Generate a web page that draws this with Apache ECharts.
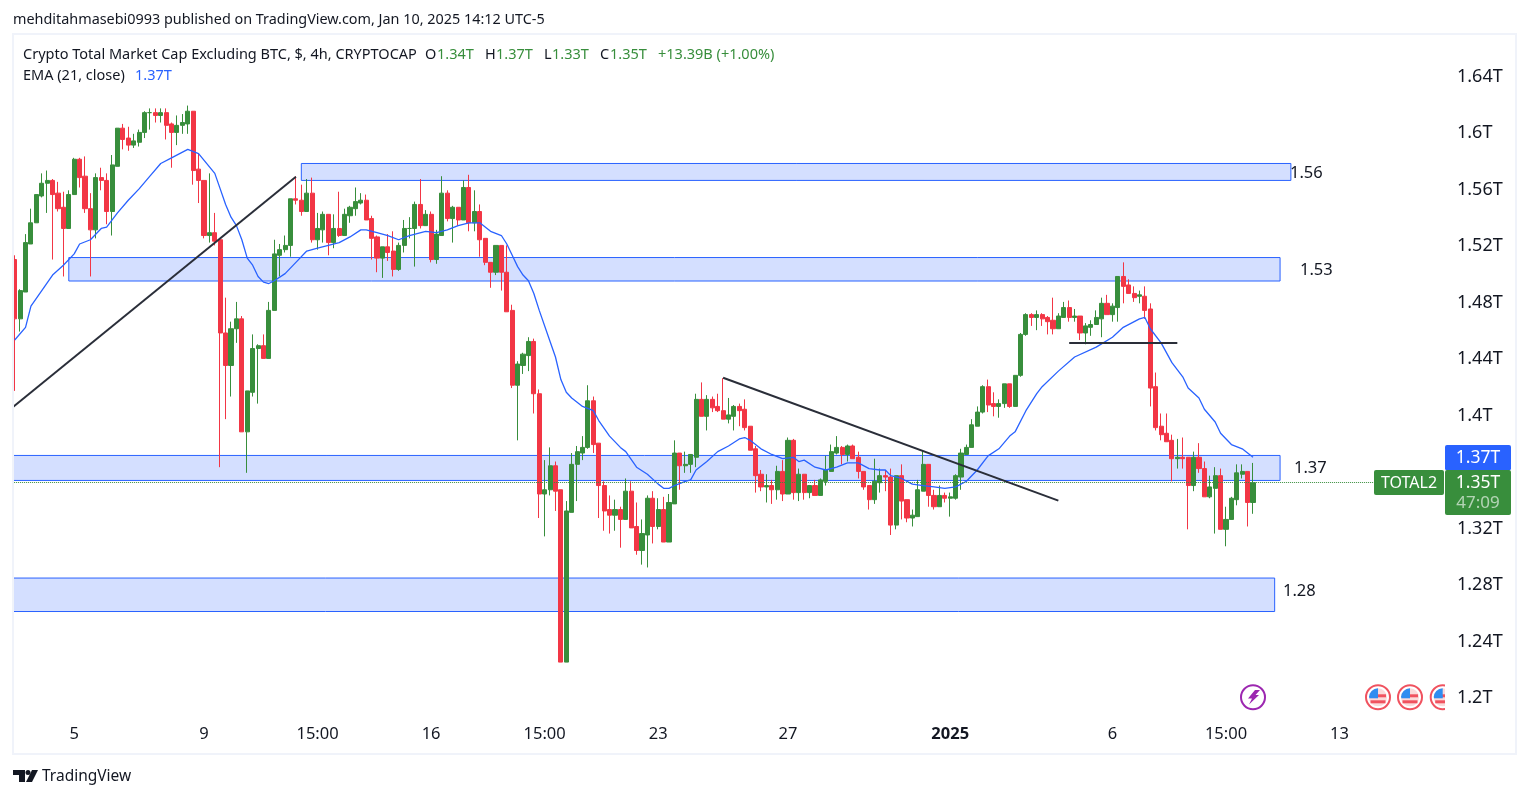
<!DOCTYPE html>
<html><head><meta charset="utf-8">
<style>html,body{margin:0;padding:0;background:#fff}#c{width:1529px;height:798px}</style>
<script src="https://cdn.jsdelivr.net/npm/echarts@6/dist/echarts.min.js"></script>
</head><body><div id="c"></div>
<script>
const opens=[1.509,1.467,1.486,1.520,1.535,1.554,1.563,1.565,1.556,1.546,
1.531,1.555,1.580,1.568,1.545,1.530,1.567,1.565,1.543,1.575,
1.602,1.595,1.590,1.592,1.599,1.613,1.613,1.611,1.613,1.605,
1.599,1.604,1.605,1.614,1.573,1.565,1.526,1.528,1.523,1.457,
1.434,1.460,1.467,1.387,1.415,1.446,1.448,1.439,1.473,1.512,
1.516,1.519,1.552,1.551,1.543,1.556,1.523,1.530,1.541,1.521,
1.531,1.526,1.540,1.545,1.549,1.551,1.538,1.525,1.510,1.518,
1.515,1.502,1.519,1.531,1.531,1.548,1.533,1.541,1.509,1.526,
1.556,1.538,1.546,1.537,1.560,1.535,1.543,1.524,1.507,1.500,
1.519,1.500,1.473,1.420,1.434,1.441,1.451,1.414,1.343,1.346,
1.363,1.346,1.224,1.330,1.364,1.372,1.376,1.409,1.379,1.349,
1.332,1.328,1.332,1.325,1.345,1.320,1.303,1.314,1.340,1.320,
1.332,1.309,1.336,1.372,1.363,1.364,1.369,1.410,1.398,1.410,
1.405,1.402,1.396,1.398,1.405,1.403,1.391,1.375,1.357,1.348,
1.349,1.346,1.359,1.343,1.381,1.344,1.357,1.344,1.349,1.342,
1.352,1.359,1.372,1.376,1.371,1.377,1.369,1.359,1.349,1.339,
1.351,1.356,1.355,1.321,1.356,1.339,1.326,1.327,1.345,1.364,
1.342,1.334,1.342,1.340,1.340,1.355,1.371,1.376,1.391,1.401,
1.419,1.407,1.405,1.407,1.421,1.405,1.427,1.456,1.470,1.468,
1.470,1.468,1.466,1.460,1.468,1.475,1.468,1.469,1.457,1.461,
1.463,1.467,1.478,1.470,1.475,1.497,1.491,1.485,1.483,1.483,
1.474,1.419,1.391,1.386,1.381,1.368,1.369,1.369,1.349,1.369,
1.361,1.341,1.347,1.356,1.318,1.325,1.339,1.357,1.359,1.337];
const closes=[1.467,1.487,1.521,1.535,1.555,1.563,1.565,1.555,1.545,1.531,
1.555,1.580,1.567,1.545,1.530,1.567,1.565,1.543,1.576,1.602,
1.594,1.590,1.593,1.599,1.613,1.613,1.611,1.613,1.604,1.599,
1.604,1.606,1.614,1.572,1.565,1.526,1.528,1.522,1.457,1.434,
1.460,1.467,1.387,1.416,1.446,1.448,1.439,1.473,1.513,1.516,
1.519,1.552,1.551,1.543,1.556,1.523,1.531,1.541,1.521,1.531,
1.526,1.541,1.546,1.550,1.551,1.537,1.524,1.510,1.518,1.514,
1.502,1.519,1.531,1.531,1.548,1.533,1.541,1.509,1.527,1.556,
1.538,1.546,1.537,1.560,1.535,1.543,1.523,1.507,1.500,1.519,
1.500,1.472,1.420,1.435,1.442,1.451,1.414,1.343,1.346,1.363,
1.345,1.224,1.331,1.364,1.373,1.376,1.409,1.378,1.349,1.331,
1.328,1.332,1.325,1.345,1.319,1.303,1.315,1.340,1.320,1.332,
1.309,1.337,1.372,1.363,1.364,1.371,1.410,1.398,1.410,1.404,
1.402,1.396,1.399,1.405,1.402,1.390,1.374,1.356,1.348,1.349,
1.346,1.359,1.343,1.381,1.344,1.357,1.344,1.349,1.342,1.353,
1.360,1.373,1.376,1.371,1.377,1.368,1.359,1.348,1.339,1.352,
1.356,1.355,1.321,1.356,1.338,1.326,1.328,1.346,1.364,1.342,
1.334,1.342,1.340,1.341,1.356,1.372,1.376,1.392,1.401,1.419,
1.406,1.405,1.407,1.421,1.405,1.427,1.456,1.470,1.468,1.470,
1.467,1.465,1.460,1.469,1.475,1.468,1.469,1.457,1.462,1.463,
1.468,1.478,1.470,1.476,1.497,1.490,1.485,1.482,1.484,1.473,
1.418,1.390,1.385,1.380,1.368,1.369,1.368,1.349,1.369,1.361,
1.341,1.348,1.356,1.318,1.325,1.340,1.358,1.359,1.337,1.351];
const lows=[1.416,1.458,1.486,1.520,1.535,1.553,1.542,1.509,1.543,1.497,
1.531,1.555,1.560,1.542,1.497,1.524,1.558,1.534,1.526,1.575,
1.587,1.586,1.588,1.589,1.595,1.601,1.606,1.606,1.594,1.574,
1.590,1.598,1.598,1.562,1.549,1.524,1.521,1.519,1.362,1.396,
1.412,1.450,1.387,1.358,1.412,1.407,1.439,1.439,1.473,1.497,
1.514,1.511,1.548,1.540,1.543,1.521,1.516,1.521,1.512,1.517,
1.525,1.526,1.535,1.540,1.548,1.537,1.509,1.500,1.496,1.508,
1.497,1.501,1.514,1.524,1.504,1.531,1.533,1.507,1.506,1.526,
1.536,1.521,1.533,1.537,1.529,1.529,1.511,1.505,1.489,1.498,
1.487,1.472,1.418,1.381,1.428,1.430,1.400,1.326,1.313,1.342,
1.331,1.224,1.224,1.330,1.338,1.367,1.375,1.372,1.326,1.317,
1.315,1.317,1.305,1.325,1.319,1.300,1.293,1.291,1.308,1.318,
1.309,1.309,1.336,1.346,1.358,1.358,1.362,1.398,1.388,1.401,
1.401,1.396,1.393,1.388,1.391,1.388,1.374,1.344,1.345,1.337,
1.336,1.339,1.338,1.343,1.339,1.338,1.339,1.340,1.342,1.342,
1.349,1.359,1.371,1.364,1.366,1.368,1.354,1.346,1.332,1.336,
1.344,1.345,1.314,1.318,1.325,1.323,1.320,1.327,1.345,1.334,
1.332,1.334,1.337,1.327,1.339,1.346,1.371,1.376,1.391,1.400,
1.401,1.398,1.397,1.404,1.404,1.405,1.426,1.455,1.462,1.459,
1.462,1.456,1.456,1.460,1.468,1.465,1.465,1.452,1.449,1.455,
1.463,1.454,1.470,1.465,1.465,1.478,1.485,1.479,1.478,1.467,
1.405,1.388,1.381,1.380,1.352,1.361,1.361,1.318,1.345,1.358,
1.341,1.340,1.315,1.318,1.306,1.325,1.335,1.354,1.320,1.329];
const highs=[1.512,1.488,1.527,1.545,1.555,1.570,1.572,1.566,1.564,1.557,
1.558,1.581,1.581,1.582,1.556,1.570,1.574,1.570,1.583,1.602,
1.605,1.603,1.598,1.601,1.614,1.616,1.616,1.616,1.616,1.606,
1.611,1.612,1.618,1.614,1.584,1.565,1.570,1.542,1.523,1.482,
1.465,1.479,1.469,1.416,1.456,1.449,1.456,1.479,1.523,1.520,
1.526,1.552,1.568,1.562,1.566,1.567,1.542,1.543,1.541,1.541,
1.557,1.545,1.547,1.560,1.556,1.555,1.540,1.526,1.518,1.527,
1.529,1.521,1.537,1.539,1.550,1.566,1.544,1.543,1.530,1.568,
1.558,1.547,1.546,1.565,1.569,1.558,1.548,1.524,1.507,1.519,
1.519,1.519,1.477,1.437,1.443,1.454,1.453,1.417,1.367,1.376,
1.366,1.346,1.338,1.372,1.377,1.384,1.420,1.412,1.379,1.352,
1.342,1.339,1.334,1.354,1.352,1.337,1.325,1.342,1.345,1.340,
1.341,1.343,1.381,1.372,1.373,1.371,1.414,1.422,1.413,1.412,
1.414,1.425,1.411,1.406,1.407,1.410,1.391,1.377,1.360,1.357,
1.353,1.363,1.367,1.383,1.382,1.361,1.357,1.349,1.353,1.354,
1.370,1.378,1.384,1.377,1.378,1.378,1.373,1.359,1.349,1.368,
1.361,1.360,1.361,1.356,1.364,1.339,1.332,1.353,1.374,1.364,
1.346,1.349,1.344,1.344,1.357,1.375,1.378,1.396,1.405,1.420,
1.424,1.415,1.410,1.421,1.421,1.427,1.457,1.471,1.471,1.473,
1.471,1.469,1.482,1.471,1.479,1.480,1.474,1.469,1.464,1.466,
1.473,1.482,1.484,1.478,1.497,1.507,1.495,1.490,1.487,1.490,
1.478,1.429,1.400,1.400,1.385,1.382,1.383,1.369,1.373,1.379,
1.366,1.356,1.362,1.361,1.334,1.341,1.364,1.364,1.359,1.365];
// EMA(21) at these candle numbers
const emaCandle=[0,2,3,5,7,9,11,12,14,16,17,19,21,23,25,27,29,32,34,37,38,39,40,41,42,43,44,45,46,47,48,50,52,54,56,
58,60,62,64,65,67,69,71,73,76,78,80,82,84,86,88,90,91,92,93,94,95,96,97,99,100,101,102,103,105,
107,108,110,112,113,115,117,119,120,121,122,124,125,126,128,130,132,134,135,136,138,140,142,144,145,
146,148,150,152,154,156,158,160,161,162,164,166,168,170,172,174,176,178,180,182,184,185,
187,189,190,193,196,200,203,205,208,209,210,212,214,216,217,219,220,222,223,225,227,229];
const emaValue=[1.452,1.461,1.476,1.487,1.498,1.505,1.513,1.520,1.523,1.531,1.532,1.542,1.551,1.559,1.568,1.577,1.581,1.587,1.584,1.570,1.559,1.548,1.539,1.533,1.523,1.510,1.505,1.497,1.493,1.492,1.494,1.499,1.507,1.515,1.517,
1.519,1.521,1.525,1.530,1.530,1.528,1.526,1.523,1.526,1.529,1.528,1.530,1.533,1.535,1.535,1.529,1.526,1.520,1.512,1.504,1.498,1.494,1.485,1.473,1.451,1.440,1.424,1.415,1.411,1.405,
1.402,1.395,1.384,1.376,1.373,1.362,1.357,1.350,1.347,1.347,1.349,1.352,1.353,1.360,1.366,1.373,1.377,1.382,1.383,1.381,1.375,1.371,1.368,1.369,1.366,
1.367,1.362,1.360,1.362,1.365,1.365,1.361,1.360,1.360,1.356,1.354,1.350,1.349,1.348,1.347,1.348,1.352,1.360,1.370,1.375,1.384,1.387,
1.402,1.414,1.419,1.430,1.440,1.447,1.454,1.461,1.467,1.468,1.460,1.450,1.436,1.426,1.418,1.411,1.403,1.394,1.386,1.378,1.375,1.369];
const xTickCandle=[11,35,56,77,98,119,143,173,203,224,245];
const xTickLabel=["5","9","15:00","16","15:00","23","27","2025","6","15:00","13"];
const yTicks=[1.2,1.24,1.28,1.32,1.4,1.44,1.48,1.52,1.56,1.6,1.64];
const zoneNames=["1.56","1.53","1.37","1.28"];
const zoneFrom=[53,10,-1,-1];
const zoneTo=[236,234,234,233];
const zoneTop=[1.577,1.5104,1.3703,1.2835];
const zoneBottom=[1.565,1.4938,1.3526,1.2598];
const lineFrom=[[-1,1.4025],[131,1.4253],[195,1.4504]];
const lineTo=[[52,1.5676],[193,1.3383],[215,1.4504]];
const lastPrice=closes[closes.length-1];

const PAD=2, TOTAL=267;
const FONT='"Noto Sans",sans-serif';
const INK='#131722', UP='#388e3c', DOWN='#f23645', BLUE='#2962ff';
const cats=[];
for(let i=0;i<TOTAL;i++){
  const k=xTickCandle.indexOf(i-PAD);
  const label=k>=0?xTickLabel[k]:'';
  cats.push(label==='2025'?{value:label,textStyle:{fontWeight:'bold'}}:label);
}
const candles=[],ema=[];
for(let i=0;i<TOTAL;i++){candles.push('-');ema.push(null);}
opens.forEach((o,i)=>{candles[i+PAD]=[o,closes[i],lows[i],highs[i]];});
emaCandle.forEach((c,i)=>{ema[c+PAD]=emaValue[i];});

function txt(x,y,text,o){o=o||{};return {type:'text',z:o.z||50,x:x,y:y,style:{text:text,fill:o.fill||INK,font:(o.weight||'normal')+' '+(o.size||14.5)+'px '+FONT,textAlign:o.align||'left',textVerticalAlign:'middle'}};}
function box(x,y,w,h,fill,o){o=o||{};return {type:'rect',z:o.z||40,shape:{x:x,y:y,width:w,height:h,r:o.r||0},style:{fill:fill,stroke:o.stroke||null,lineWidth:o.lw||0}};}
function flag(cx,cy){
  const r=9, parts=[];
  parts.push({type:'circle',z:45,shape:{cx:cx,cy:cy,r:12},style:{fill:'#fff',stroke:'#f0525f',lineWidth:2}});
  parts.push({type:'circle',z:46,shape:{cx:cx,cy:cy,r:r},style:{fill:'#fbdada'}});
  parts.push({type:'rect',z:47,shape:{x:cx-1,y:cy-3,width:9,height:3},style:{fill:'#f0525f'}});
  parts.push({type:'sector',z:47,shape:{cx:cx,cy:cy,r:r,startAngle:Math.PI,endAngle:Math.PI*1.5},style:{fill:'#2f8df0'}});
  parts.push({type:'rect',z:47,shape:{x:cx-8.7,y:cy-1,width:8.7,height:2},style:{fill:'#2f8df0'}});
  parts.push({type:'rect',z:47,shape:{x:cx-7.5,y:cy+3,width:15,height:3},style:{fill:'#f0525f'}});
  return parts;
}
const g=[];
g.push(box(0,0,13.5,798,'#fff',{z:30}));
g.push(box(13,34,1503,720,'rgba(0,0,0,0)',{z:31,stroke:'#f0f3fa',lw:2}));
g.push(txt(13,20,'mehditahmasebi0993 published on TradingView.com, Jan 10, 2025 14:12 UTC-5',{size:14.4}));
g.push(txt(23,55,'Crypto Total Market Cap Excluding BTC, $, 4h, CRYPTOCAP'));
[[425,'O',437,'1.34T'],[485,'H',496,'1.37T'],[544,'L',552,'1.33T'],[600,'C',610,'1.35T']].forEach(a=>{g.push(txt(a[0],55,a[1]));g.push(txt(a[2],55,a[3],{fill:UP}));});
g.push(txt(658,55,'+13.39B (+1.00%)',{fill:UP}));
g.push(txt(23,76,'EMA (21, close)'));
g.push(txt(135,76,'1.37T',{fill:BLUE}));
[[1290,173,'1.56'],[1300,270,'1.53'],[1294,468,'1.37'],[1283,591,'1.28']].forEach(a=>g.push(txt(a[0],a[1],a[2],{size:16.5})));
g.push(box(1445,445,66,25.5,BLUE,{r:2}));
g.push(txt(1478,458.5,'1.37T',{fill:'#fff',size:17.5,align:'center',z:51}));
g.push(box(1445,470,66,45,UP,{r:2}));
g.push(txt(1478,483,'1.35T',{fill:'#fff',size:17.5,align:'center',z:51}));
g.push(txt(1478,503.5,'47:09',{fill:'rgba(255,255,255,0.62)',size:17,align:'center',z:51}));
g.push(box(1374,470,70,25,UP,{r:2}));
g.push(txt(1409,483.5,'TOTAL2',{fill:'#fff',size:16,align:'center',z:51}));
g.push({type:'circle',z:45,shape:{cx:1253,cy:697.3,r:12},style:{fill:'#fff',stroke:'#9c27b0',lineWidth:2}});
g.push({type:'polygon',z:46,shape:{points:[[1255,690],[1260,690],[1255.5,695],[1259,695],[1249,704.5],[1252,698.5],[1248,698.5]]},style:{fill:'#9c27b0'}});
flag(1378,697.3).forEach(p=>g.push(p));
flag(1410,697.3).forEach(p=>g.push(p));
flag(1442.7,697.3).forEach(p=>g.push(p));
g.push(box(1445,683,11,29,'#fff',{z:48}));
g.push({type:'polygon',z:40,shape:{points:[[13,770],[25,770],[25,782],[19,782],[19,775],[13,775]]},style:{fill:INK}});
g.push({type:'circle',z:40,shape:{cx:28,cy:772.5,r:2.5},style:{fill:INK}});
g.push({type:'polygon',z:40,shape:{points:[[32,770],[38,770],[32,782],[26,782]]},style:{fill:INK}});
g.push(txt(42,777,'TradingView',{size:15.5}));

const chart=echarts.init(document.getElementById('c'),null,{renderer:'canvas'});
chart.setOption({
  animation:false,backgroundColor:'#fff',
  grid:{left:1.2,top:35,width:1443.8,height:681,containLabel:false},
  xAxis:{type:'category',data:cats,boundaryGap:true,
    axisLine:{show:false},axisTick:{show:false},splitLine:{show:false},
    axisLabel:{interval:0,hideOverlap:false,margin:10,color:INK,fontSize:16.5,fontFamily:FONT}},
  yAxis:{type:'value',position:'right',min:1.18584,max:1.66796,scale:true,
    axisLine:{show:false},axisTick:{show:false},splitLine:{show:false},
    axisLabel:{customValues:yTicks,margin:12,verticalAlign:'top',lineHeight:4,color:INK,fontSize:18,fontFamily:FONT,formatter:v=>v+'T'}},
  series:[
    {type:'candlestick',data:candles,barWidth:4.6,z:3,
      itemStyle:{color:UP,color0:DOWN,borderColor:UP,borderColor0:DOWN,borderWidth:1},
      markArea:{silent:true,z:1,itemStyle:{color:'#d4dfff',borderColor:BLUE,borderWidth:1},
        data:zoneNames.map((n,i)=>[{xAxis:zoneFrom[i]+PAD,yAxis:zoneTop[i]},{xAxis:zoneTo[i]+PAD,yAxis:zoneBottom[i]}])},
      markLine:{silent:true,z:6,symbol:'none',label:{show:false},
        data:[[{coord:[0,lastPrice],lineStyle:{color:UP,type:'dotted',width:1}},{coord:[TOTAL-1,lastPrice]}]]
          .concat(lineFrom.map((f,i)=>[{coord:[f[0]+PAD,f[1]],lineStyle:{color:'#2a2e39',type:'solid',width:2}},{coord:[lineTo[i][0]+PAD,lineTo[i][1]]}]))}},
    {type:'line',data:ema,connectNulls:true,symbol:'none',smooth:false,z:4,lineStyle:{color:BLUE,width:1.3}}
  ],
  graphic:{elements:g}
});
</script></body></html>
